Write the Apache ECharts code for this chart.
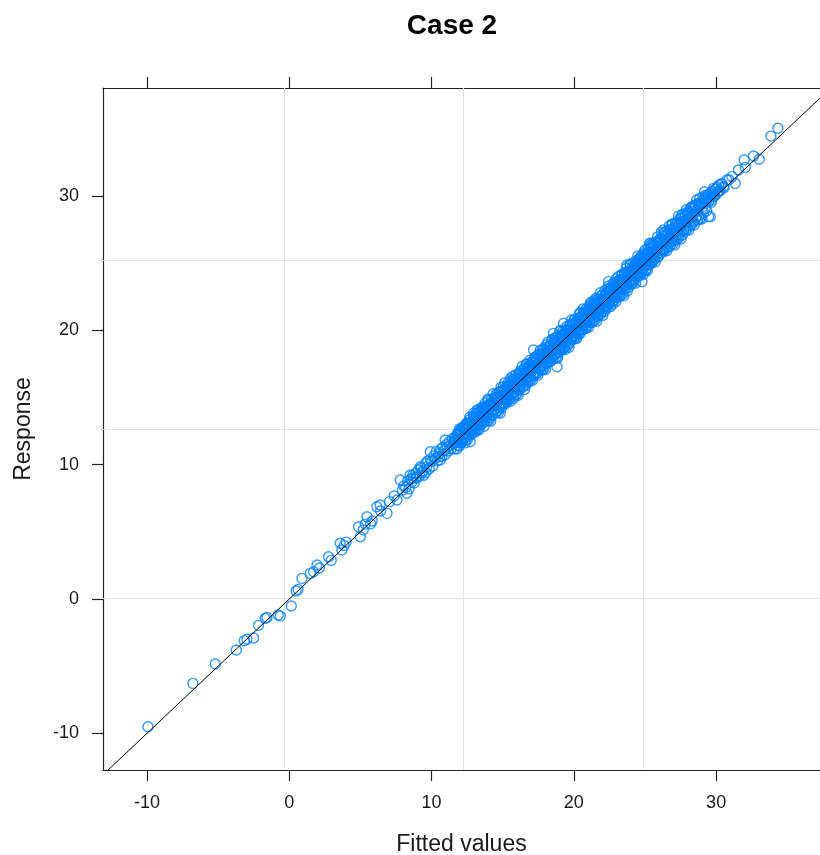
<!DOCTYPE html>
<html>
<head>
<meta charset="utf-8">
<title>Case 2</title>
<script src="https://cdn.jsdelivr.net/npm/echarts@6/dist/echarts.min.js"></script>
<style>
  html, body { margin: 0; padding: 0; background: #ffffff; }
  #chart { width: 820px; height: 855px; }
</style>
</head>
<body>
<div id="chart"></div>
<script>
// Axis ticks and reference grid positions
const xTicks = [-10, 0, 10, 20, 30];
const yTicks = [-10, 0, 10, 20, 30];
const xGridLines = [-0.35, 12.25, 24.85];
const yGridLines = [0.05, 12.65, 25.25];
const xRange = [-13.09, 37.30];
const yRange = [-12.73, 38.05];
const identityEnds = [-14, 40];

// Observations: [fitted, response]
const lowTail = [
  [-9.93,-9.51],[-6.77,-6.28],[-5.20,-4.84],[-3.72,-3.80],[-3.16,-3.10],[-2.97,-3.00],[-2.51,-2.90],[-2.16,-1.96],
  [-1.69,-1.44],[-1.57,-1.37],[-0.63,-1.27],[-0.77,-1.19],[0.14,-0.52],[0.49,0.60],[0.62,0.72],[0.89,1.54],
  [1.48,1.91],[1.71,2.03],[1.95,2.53],[2.12,2.31],[2.76,3.15],[2.95,2.88],[3.58,4.15],[3.70,3.65],[3.86,3.98],
  [4.00,4.24],[4.87,5.38],[4.99,4.64],[5.20,5.15],[5.34,5.58],[5.46,6.13],[5.72,5.60],[5.83,5.81],[6.16,6.87],
  [6.39,7.00],[6.42,6.55],[6.87,6.38],[7.05,7.25],[7.38,7.67],[7.57,7.37],[7.80,8.86],[7.95,8.10],[8.27,7.87],
  [8.50,9.23],[8.62,8.71],[8.71,9.01],[8.90,9.05],[9.21,9.85],[9.35,9.40],[9.60,9.42],[9.91,10.97],[10.61,10.35],
  [10.96,11.84],[12.02,12.58],[12.49,13.08],[12.95,13.83],[12.72,11.71]
];

const bandLower = [
  [8.05,8.42],[8.18,8.31],[8.33,8.79],[8.41,8.20],[8.56,8.95],[8.68,9.21],[8.77,8.64],[8.89,9.37],[8.97,9.02],[9.08,9.61],
  [9.16,9.18],[9.27,9.74],[9.39,9.55],[9.46,9.22],[9.58,10.11],[9.66,9.83],[9.74,10.29],[9.83,9.70],[9.92,10.38],[10.01,10.24],
  [10.09,9.91],[10.17,10.66],[10.26,10.47],[10.33,10.98],[10.42,10.30],[10.50,10.81],[10.57,10.59],[10.65,11.17],[10.73,10.62],[10.80,11.28],
  [10.88,11.04],[10.95,10.74],[11.03,11.49],[11.10,11.31],[11.18,11.02],[11.25,11.72],[11.31,11.47],[11.39,11.19],[11.46,11.93],[11.52,11.60]
];

const bandMiddle = [
  [11.56,11.79],[11.60,11.18],[11.65,12.02],[11.69,11.63],[11.74,11.88],[11.78,11.17],[11.83,12.31],[11.87,11.89],[11.92,11.65],[11.96,12.67],
  [12.01,11.86],[12.05,12.36],[12.10,11.62],[12.14,12.23],[12.19,12.74],[12.23,11.90],[12.28,12.26],[12.32,12.74],[12.37,11.63],[12.41,12.60],
  [12.46,13.09],[12.50,12.29],[12.55,12.62],[12.59,12.20],[12.64,12.92],[12.68,13.54],[12.73,12.62],[12.77,12.22],[12.82,13.17],[12.86,12.98],
  [12.91,12.62],[12.95,13.46],[13.00,12.92],[13.04,13.28],[13.09,12.43],[13.13,13.57],[13.18,13.22],[13.22,13.04],[13.27,14.04],[13.31,12.94],
  [13.35,13.51],[13.39,13.36],[13.44,14.02],[13.48,12.99],[13.52,13.78],[13.56,13.33],[13.61,14.28],[13.65,13.66],[13.69,12.87],[13.73,14.06],
  [13.78,13.65],[13.82,14.28],[13.86,13.51],[13.90,14.01],[13.95,14.87],[13.99,13.73],[14.03,14.09],[14.07,13.49],[14.12,14.51],[14.16,14.34],
  [14.20,14.38],[14.24,14.63],[14.28,13.70],[14.32,14.38],[14.36,14.10],[14.40,14.92],[14.44,14.55],[14.48,14.13],[14.52,14.98],[14.56,14.43],
  [14.60,14.93],[14.64,14.02],[14.68,14.69],[14.72,15.39],[14.76,14.53],[14.80,15.06],[14.84,14.35],[14.88,15.46],[14.92,14.89],[14.96,15.12],
  [15.00,14.63],[15.04,15.81],[15.08,14.90],[15.12,15.16],[15.16,15.60],[15.20,14.54],[15.24,15.48],[15.28,15.20],[15.32,15.83],[15.36,15.07],
  [15.40,15.52],[15.43,15.78],[15.47,14.92],[15.51,15.40],[15.55,16.41],[15.58,15.86],[15.62,15.23],[15.66,15.73],[15.70,15.49],[15.73,16.36],
  [15.77,15.33],[15.81,16.02],[15.84,15.87],[15.88,15.71],[15.92,16.41],[15.95,15.24],[15.99,16.35],[16.03,16.12],[16.06,15.78],[16.10,16.67],
  [16.13,16.07],[16.17,16.48],[16.20,15.68],[16.24,16.38],[16.27,16.99],[16.31,15.97],[16.34,16.36],[16.38,16.79],[16.41,16.22],[16.45,15.82],
  [16.48,16.75],[16.52,16.43],[16.55,17.09],[16.59,16.18],[16.62,16.77],[16.66,17.49],[16.69,16.45],[16.73,16.81],[16.76,16.19],[16.80,17.18],
  [16.83,16.52],[16.87,17.06],[16.90,17.35],[16.94,16.82],[16.97,16.29],[17.01,17.30],[17.04,17.10],[17.08,17.69],[17.11,16.72],[17.15,17.28],
  [17.18,17.41],[17.22,16.80],[17.25,17.62],[17.29,17.23],[17.32,17.46],[17.36,16.75],[17.39,17.87],[17.43,17.45],[17.46,17.19],[17.50,18.21],
  [17.53,17.38],[17.57,17.88],[17.60,17.12],[17.64,17.73],[17.67,18.22],[17.71,17.38],[17.74,17.72],[17.78,18.20],[17.81,17.07],[17.85,18.04],
  [17.88,18.51],[17.92,17.71],[17.95,18.02],[17.99,17.60],[18.02,18.30],[18.06,18.92],[18.09,17.98],[18.13,17.58],[18.16,18.51],[18.20,18.32],
  [18.23,17.94],[18.27,18.78],[18.30,18.22],[18.34,18.58],[18.37,17.71],[18.41,18.85],[18.44,18.48],[18.48,18.30],[18.51,19.28],[18.55,18.18],
  [18.58,18.74],[18.62,18.59],[18.65,19.23],[18.69,18.20],[18.72,18.98],[18.76,18.53],[18.79,19.46],[18.83,18.84],[18.86,18.04],[18.90,19.23],
  [18.93,18.80],[18.97,19.43],[19.00,18.65],[19.04,19.15],[19.07,19.99],[19.11,18.85],[19.14,19.20],[19.18,18.60],[19.21,19.60],[19.25,19.43],
  [19.28,19.46],[19.32,19.71],[19.35,18.77],[19.39,19.45],[19.42,19.16],[19.46,19.98],[19.49,19.60],[19.53,19.18],[19.56,20.02],[19.60,19.47],
  [19.63,19.96],[19.67,19.05],[19.70,19.71],[19.74,20.41],[19.77,19.54],[19.81,20.07],[19.84,19.35],[19.88,20.46],[19.91,19.88],[19.95,20.11],
  [19.98,19.61],[20.02,20.79],[20.05,19.87],[20.09,20.13],[20.12,20.56],[20.16,19.50],[20.19,20.43],[20.23,20.15],[20.26,20.77],[20.30,20.01],
  [20.33,20.45],[20.37,20.72],[20.40,19.85],[20.44,20.33],[20.47,21.33],[20.51,20.79],[20.54,20.15],[20.58,20.65],[20.61,20.40],[20.65,21.28],
  [20.68,20.24],[20.72,20.93],[20.75,20.78],[20.79,20.62],[20.82,21.31],[20.86,20.15],[20.89,21.25],[20.93,21.02],[20.96,20.68],[21.00,21.57],
  [21.03,20.97],[21.07,21.38],[21.10,20.58],[21.14,21.28],[21.17,21.89],[21.21,20.87],[21.24,21.26],[21.28,21.69],[21.31,21.12],[21.35,20.72],
  [21.38,21.65],[21.42,21.33],[21.45,21.99],[21.49,21.08],[21.52,21.67],[21.56,22.39],[21.59,21.35],[21.63,21.71],[21.66,21.09],[21.70,22.08],
  [21.73,21.42],[21.77,21.96],[21.80,22.25],[21.84,21.72],[21.87,21.19],[21.91,22.20],[21.94,22.00],[21.98,22.59],[22.01,21.62],[22.05,22.18],
  [22.08,22.31],[22.12,21.70],[22.15,22.52],[22.19,22.13],[22.22,22.36],[22.26,21.65],[22.29,22.77],[22.33,22.35],[22.36,22.09],[22.40,23.11],
  [22.43,22.28],[22.47,22.78],[22.50,22.02],[22.54,22.63],[22.57,23.12],[22.61,22.28],[22.64,22.62],[22.68,23.10],[22.71,21.97],[22.75,22.94],
  [22.78,23.41],[22.82,22.61],[22.85,22.92],[22.89,22.50],[22.92,23.20],[22.96,23.82],[22.99,22.88],[23.03,22.48],[23.06,23.41],[23.10,23.22],
  [23.13,22.84],[23.17,23.68],[23.20,23.12],[23.24,23.48],[23.27,22.61],[23.31,23.75],[23.34,23.38],[23.38,23.20],[23.41,24.18],[23.45,23.08],
  [23.48,23.64],[23.52,23.49],[23.55,24.13],[23.59,23.10],[23.62,23.88],[23.66,23.43],[23.69,24.36],[23.73,23.74],[23.76,22.94],[23.80,24.13],
  [23.83,23.70],[23.87,24.33],[23.90,23.55],[23.94,24.05],[23.97,24.89],[24.01,23.75],[24.04,24.10],[24.08,23.50],[24.11,24.50],[24.15,24.33],
  [24.18,24.46],[24.22,24.71],[24.25,23.77],[24.29,24.45],[24.32,24.16],[24.36,24.98],[24.39,24.60],[24.43,24.18],[24.46,25.02],[24.50,24.47],
  [24.53,24.96],[24.57,24.05],[24.60,24.71],[24.64,25.41],[24.67,24.54],[24.71,25.07],[24.74,24.35],[24.78,25.46],[24.81,24.88],[24.85,25.11],
  [24.88,24.61],[24.92,25.79],[24.95,24.87],[24.99,25.13],[25.02,25.56],[25.06,24.50],[25.09,25.43],[25.13,25.15],[25.16,25.77],[25.20,25.01],
  [25.24,25.46],[25.28,25.73],[25.32,24.87],[25.36,25.35],[25.40,26.36],[25.44,25.82],[25.48,25.19],[25.52,25.69],[25.56,25.45],[25.60,26.33]
];

const bandUpper = [
  [25.65,25.41],[25.70,26.11],[25.75,25.98],[25.80,25.83],[25.85,26.54],[25.90,25.49],[25.95,26.51],[26.00,26.29],[26.05,25.97],[26.10,26.87],
  [26.15,26.29],[26.20,26.71],[26.25,25.93],[26.30,26.64],[26.35,27.27],[26.40,26.26],[26.45,26.67],[26.50,27.11],[26.55,26.56],[26.60,26.17],
  [26.65,27.12],[26.70,26.81],[26.75,27.49],[26.80,26.59],[26.85,27.20],[26.90,27.93],[26.95,26.91],[27.00,27.28],[27.05,26.68],[27.10,27.68],
  [27.15,27.04],[27.20,27.59],[27.25,27.90],[27.30,27.38],[27.35,26.87],[27.40,27.89],[27.45,27.71],[27.50,28.31],[27.55,27.36],[27.60,27.93],
  [27.66,28.09],[27.72,27.50],[27.78,28.35],[27.84,27.98],[27.90,28.24],[27.96,27.55],[28.02,28.70],[28.08,28.30],[28.14,28.07],[28.20,29.11],
  [28.27,28.32],[28.34,28.85],[28.41,28.13],[28.48,28.77],[28.55,29.30],[28.62,28.49],[28.69,28.91],[28.76,29.38],[28.83,28.29],[28.90,29.29],
  [28.98,29.45],[29.07,29.21],[29.15,29.78],[29.24,29.52],[29.33,29.61],[29.44,30.12],[29.53,29.86],[29.65,29.70],[29.78,30.22],[29.90,30.04],
  [30.05,30.64],[30.21,30.38],[30.38,30.95],[30.55,30.62],[30.90,31.22]
];

// Wider spread of the dense core
const bandEdges = [
  [11.80,12.30],[11.85,11.44],[11.91,12.23],[11.96,11.39],[12.02,12.46],[12.07,11.80],[12.13,12.75],[12.18,11.71],[12.24,12.60],[12.29,11.96],
  [12.35,12.90],[12.40,11.89],[12.46,12.70],[12.51,11.87],[12.57,13.05],[12.62,12.23],[12.68,13.35],[12.73,12.48],[12.79,13.19],[12.84,12.39],
  [12.90,12.59],[12.95,13.65],[13.01,12.47],[13.06,13.48],[13.12,12.74],[13.17,13.80],[13.23,12.65],[13.28,13.55],[13.34,12.60],[13.39,13.93],
  [13.45,13.01],[13.50,14.26],[13.56,13.27],[13.61,14.07],[13.67,13.16],[13.72,14.30],[13.78,13.32],[13.83,14.19],[13.89,13.24],[13.94,14.44],
  [14.00,14.79],[14.05,13.32],[14.11,14.45],[14.16,13.24],[14.22,14.90],[14.27,13.72],[14.33,15.28],[14.38,14.02],[14.44,15.01],[14.49,13.85],
  [14.55,15.27],[14.60,14.02],[14.66,15.11],[14.71,13.90],[14.77,15.40],[14.82,14.43],[14.88,15.76],[14.93,14.26],[14.99,15.51],[15.04,14.57],
  [15.10,14.55],[15.15,16.10],[15.21,14.85],[15.26,15.83],[15.32,14.68],[15.37,16.09],[15.43,14.85],[15.48,15.93],[15.54,14.73],[15.59,16.22],
  [15.65,15.26],[15.70,16.58],[15.76,15.09],[15.81,16.33],[15.87,15.40],[15.92,16.71],[15.98,15.25],[16.03,16.37],[16.09,15.17],[16.14,16.82],
  [16.20,15.56],[16.25,16.82],[16.31,15.95],[16.36,17.31],[16.42,15.87],[16.47,17.15],[16.53,15.61],[16.58,16.92],[16.64,15.91],[16.69,17.48],
  [16.75,16.28],[16.80,17.32],[16.86,16.19],[16.91,17.79],[16.97,16.58],[17.02,17.65],[17.08,16.27],[17.13,17.58],[17.19,16.61],[17.24,17.96],
  [17.30,18.02],[17.35,16.77],[17.41,17.86],[17.46,16.65],[17.52,18.15],[17.57,17.18],[17.63,18.51],[17.68,17.01],[17.74,18.26],[17.79,17.32],
  [17.85,18.64],[17.90,17.17],[17.96,18.30],[18.01,17.09],[18.07,18.75],[18.12,17.57],[18.18,19.13],[18.23,17.87],[18.29,18.86],[18.34,17.70],
  [18.40,18.01],[18.45,19.33],[18.51,17.84],[18.56,19.08],[18.62,18.15],[18.67,19.46],[18.73,18.00],[18.78,19.12],[18.84,17.92],[18.89,19.57],
  [18.95,18.40],[19.00,19.95],[19.06,18.70],[19.11,19.68],[19.17,18.53],[19.22,19.94],[19.28,18.70],[19.33,19.78],[19.39,18.58],[19.44,20.07],
  [19.50,20.29],[19.55,18.82],[19.61,19.95],[19.66,18.74],[19.72,20.40],[19.77,19.22],[19.83,20.78],[19.88,19.52],[19.94,20.51],[19.99,19.35],
  [20.05,20.77],[20.10,19.52],[20.16,20.61],[20.21,19.40],[20.27,20.90],[20.32,19.93],[20.38,21.26],[20.43,19.76],[20.49,21.01],[20.54,20.07],
  [20.60,20.05],[20.65,21.60],[20.71,20.35],[20.76,21.33],[20.82,20.18],[20.87,21.59],[20.93,20.35],[20.98,21.43],[21.04,20.23],[21.09,21.72],
  [21.15,20.76],[21.20,22.08],[21.26,20.59],[21.31,21.83],[21.37,20.90],[21.42,22.21],[21.48,20.75],[21.53,21.87],[21.59,20.67],[21.64,22.32],
  [21.70,21.06],[21.75,22.32],[21.81,21.45],[21.86,22.81],[21.92,21.37],[21.97,22.65],[22.03,21.11],[22.08,22.42],[22.14,21.41],[22.19,22.98],
  [22.25,21.78],[22.30,22.82],[22.36,21.69],[22.41,23.29],[22.47,22.08],[22.52,23.15],[22.58,21.77],[22.63,23.08],[22.69,22.11],[22.74,23.46],
  [22.80,23.52],[22.85,22.27],[22.91,23.36],[22.96,22.15],[23.02,23.65],[23.07,22.68],[23.13,24.01],[23.18,22.51],[23.24,23.76],[23.29,22.82],
  [23.35,24.14],[23.40,22.67],[23.46,23.80],[23.51,22.59],[23.57,24.25],[23.62,23.07],[23.68,24.63],[23.73,23.37],[23.79,24.36],[23.84,23.20],
  [23.90,23.61],[23.95,24.93],[24.01,23.44],[24.06,24.68],[24.12,23.75],[24.17,25.06],[24.23,23.60],[24.28,24.72],[24.34,23.52],[24.39,25.17],
  [24.45,24.00],[24.50,25.55],[24.56,24.30],[24.61,25.28],[24.67,24.13],[24.72,25.54],[24.78,24.30],[24.83,25.38],[24.89,24.18],[24.94,25.67],
  [25.00,25.99],[25.05,24.52],[25.11,25.65],[25.16,24.44],[25.22,26.10],[25.27,24.92],[25.33,26.48],[25.38,25.22],[25.44,26.21],[25.49,25.05],
  [25.55,26.47],[25.60,25.22],[25.66,26.31],[25.71,25.10],[25.77,26.60],[25.82,25.63],[25.88,26.96],[25.93,25.46],[25.99,26.71],[26.04,25.77],
  [26.10,25.75],[26.15,27.30],[26.21,26.05],[26.26,27.03],[26.32,25.88],[26.37,27.29],[26.43,26.05],[26.48,27.13],[26.54,25.93],[26.59,27.42],
  [26.65,26.46],[26.70,27.78],[26.76,26.29],[26.81,27.53],[26.87,26.60],[26.92,27.91],[26.98,26.45],[27.03,27.57],[27.09,26.37],[27.14,28.02],
  [27.20,26.76],[27.25,28.02],[27.31,27.15],[27.36,28.51],[27.42,27.07],[27.47,28.35],[27.53,26.81],[27.58,28.12],[27.64,27.11],[27.69,28.68],
  [27.75,27.48],[27.80,28.52],[27.86,27.39],[27.91,28.99],[27.97,27.78],[28.02,28.85],[28.08,27.47],[28.13,28.78],[28.19,27.81],[28.24,29.16],
  [28.30,29.22],[28.35,27.97],[28.41,29.06],[28.46,27.85],[28.52,29.35],[28.57,28.38],[28.63,29.71],[28.68,28.21],[28.74,29.46],[28.79,28.52],
  [28.85,29.84],[28.90,28.37],[28.96,29.50],[29.01,28.29],[29.07,29.95],[29.12,28.77],[29.18,30.33],[29.23,29.07],[29.29,30.06],[29.34,28.90],
  [29.40,29.88],[29.49,29.61],[29.58,30.21],[29.66,29.55],[29.75,30.36],[29.84,29.98],[29.95,30.52],[30.06,30.19],[30.18,30.81],[30.29,30.42],
  [30.41,30.89],[30.52,30.71]
];

const highTail = [
  [34.34,35.05],[33.85,34.47],[33.03,32.74],[32.63,32.99],[31.97,32.69],[32.05,32.14],[31.57,31.94],[31.11,31.45],
  [30.76,31.20],[31.34,30.95],[30.17,30.33],[29.82,30.58],[29.35,29.96],[29.59,28.47],[28.41,29.21]
];

const scattered = [
  [18.81,17.30],[24.79,23.63],[29.47,28.47],[17.17,18.54],[19.28,20.53],[23.73,24.87],[26.30,27.48],[27.60,28.59],
  [22.44,23.63],[15.76,14.94],[13.77,14.57],[13.19,14.07],[14.83,13.83],[18.57,19.78],[21.15,22.02],[25.37,26.49]
];

const observations = [].concat(lowTail, bandLower, bandMiddle, bandUpper, bandEdges, highTail, scattered);

const FONT = "'Liberation Sans', Arial, Helvetica, sans-serif";
const INK = '#1a1a1a';
const FRAME = '#222222';
const POINT_BLUE = '#0080ff';

const chart = echarts.init(document.getElementById('chart'), null, { renderer: 'canvas' });

const tickLabelStyle = { fontFamily: FONT, fontSize: 18, color: INK };
const frameLine = { show: true, onZero: false, lineStyle: { color: FRAME, width: 1.2 } };
const outerTicks = (values) => ({ show: true, inside: false, length: 11, customValues: values, lineStyle: { color: FRAME, width: 1.2 } });

chart.setOption({
  animation: false,
  backgroundColor: '#ffffff',
  title: {
    text: 'Case 2',
    left: 447,
    top: 7,
    textAlign: 'center',
    textStyle: { fontFamily: FONT, fontSize: 28, fontWeight: 'bold', color: '#000' }
  },
  grid: {
    left: 103,
    top: 88,
    right: 0,
    height: 682,
    show: false,
    outerBoundsMode: 'none',
    containLabel: false
  },
  xAxis: [
    {
      type: 'value',
      min: xRange[0],
      max: xRange[1],
      position: 'bottom',
      name: 'Fitted values',
      nameLocation: 'middle',
      nameGap: 63,
      nameTextStyle: { fontFamily: FONT, fontSize: 23, color: INK },
      axisLine: frameLine,
      axisTick: outerTicks(xTicks),
      axisLabel: { show: true, margin: 24, customValues: xTicks, ...tickLabelStyle },
      splitLine: { show: false }
    },
    {
      type: 'value',
      min: xRange[0],
      max: xRange[1],
      position: 'top',
      axisLine: frameLine,
      axisTick: outerTicks(xTicks),
      axisLabel: { show: false },
      splitLine: { show: false }
    }
  ],
  yAxis: [
    {
      type: 'value',
      min: yRange[0],
      max: yRange[1],
      position: 'left',
      name: 'Response',
      nameLocation: 'middle',
      nameGap: 68,
      nameRotate: 90,
      nameTextStyle: { fontFamily: FONT, fontSize: 23, color: INK },
      axisLine: frameLine,
      axisTick: outerTicks(yTicks),
      axisLabel: { show: true, margin: 24, customValues: yTicks, ...tickLabelStyle },
      splitLine: { show: false }
    }
  ],
  series: [
    {
      // light reference grid
      type: 'line',
      data: [],
      silent: true,
      z: 1,
      markLine: {
        silent: true,
        z: 1,
        symbol: ['none', 'none'],
        label: { show: false },
        lineStyle: { color: '#e4e4e4', width: 1.2, type: 'solid' },
        data: xGridLines.map(v => ({ xAxis: v })).concat(yGridLines.map(v => ({ yAxis: v })))
      }
    },
    {
      type: 'scatter',
      data: observations,
      symbol: 'circle',
      symbolSize: 10,
      z: 2,
      itemStyle: { color: 'rgba(0,0,0,0)', borderColor: POINT_BLUE, borderWidth: 1.4 },
      emphasis: { disabled: true }
    },
    {
      // identity line y = x
      type: 'line',
      data: identityEnds.map(v => [v, v]),
      symbol: 'none',
      clip: true,
      z: 3,
      lineStyle: { color: '#000', width: 1 },
      emphasis: { disabled: true }
    }
  ]
});
</script>
</body>
</html>
